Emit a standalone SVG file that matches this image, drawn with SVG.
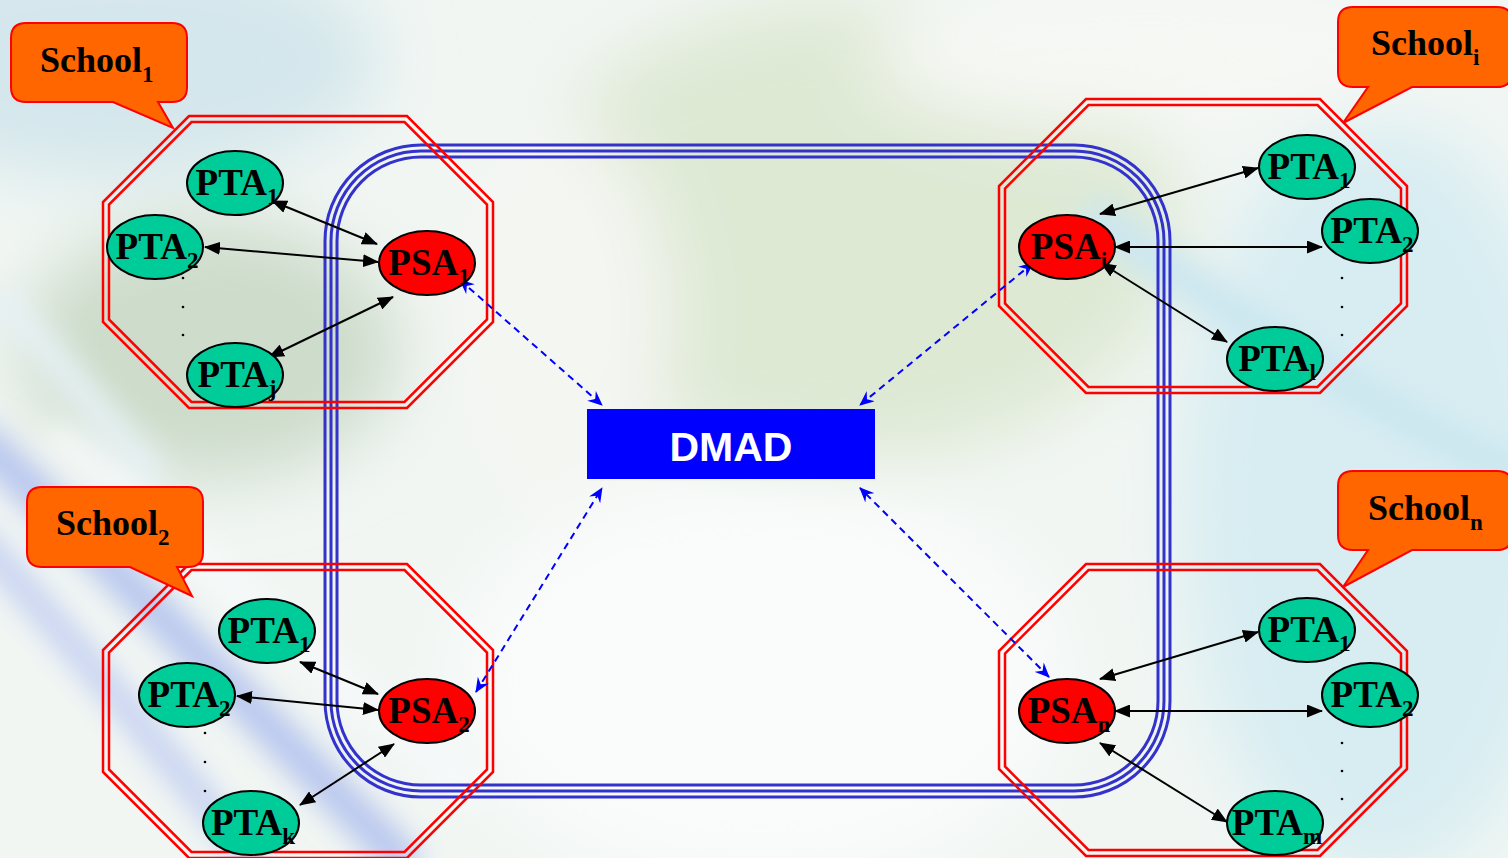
<svg xmlns="http://www.w3.org/2000/svg" width="1508" height="858" viewBox="0 0 1508 858">
<defs>
<style>
.oct{fill:none;stroke:#ff0000;stroke-width:2.5}
.pta{fill:#00cc99;stroke:#000;stroke-width:2}
.psa{fill:#ff0000;stroke:#000;stroke-width:2}
.lbl{font-family:"Liberation Serif","Times New Roman",serif;font-weight:bold;font-size:37px;fill:#000;text-anchor:middle}
.sub{font-size:23px}
.call{fill:#ff6600;stroke:#ff0000;stroke-width:2}
.ctext{font-family:"Liberation Serif","Times New Roman",serif;font-weight:bold;font-size:36px;fill:#000}
.blk{stroke:#000;stroke-width:2;fill:none;marker-start:url(#ah);marker-end:url(#ah)}
.dsh{stroke:#0000ff;stroke-width:2;fill:none;stroke-dasharray:7 5;marker-start:url(#bh);marker-end:url(#bh)}
.ring{fill:none;stroke:#3333cc;stroke-width:3}
.dot{fill:#000}
</style>
<marker id="ah" viewBox="0 0 16 13" refX="15" refY="6.5" markerWidth="16" markerHeight="13" markerUnits="userSpaceOnUse" orient="auto-start-reverse">
<path d="M0,0 L16,6.5 L0,13 Z" fill="#000"/>
</marker>
<marker id="bh" viewBox="0 0 15 13" refX="14" refY="6.5" markerWidth="15" markerHeight="13" markerUnits="userSpaceOnUse" orient="auto-start-reverse">
<path d="M0,0 L15,6.5 L0,13 L5,6.5 Z" fill="#0000ff"/>
</marker>
<filter id="blur" x="-50%" y="-50%" width="200%" height="200%"><feGaussianBlur stdDeviation="35"/></filter>
<filter id="blur2" x="-50%" y="-50%" width="200%" height="200%"><feGaussianBlur stdDeviation="14"/></filter>
</defs>

<g id="background">
<rect x="0" y="0" width="1508" height="858" fill="#f1f6f3"/>
<g filter="url(#blur)">
<ellipse cx="120" cy="60" rx="260" ry="120" fill="#d4e7ec"/>
<ellipse cx="850" cy="230" rx="330" ry="230" fill="#dee9d4"/>
<ellipse cx="210" cy="350" rx="190" ry="130" fill="#cddccb"/>
<ellipse cx="1380" cy="500" rx="200" ry="380" fill="#d8edf2"/>
<ellipse cx="760" cy="680" rx="300" ry="200" fill="#fafcfc"/>
<ellipse cx="1150" cy="60" rx="280" ry="70" fill="#f6f8f4"/>
<ellipse cx="560" cy="320" rx="110" ry="200" fill="#f4f6f2"/>
</g>
<g filter="url(#blur2)" fill="none" stroke-linecap="round">
<path d="M-20,440 C120,570 240,700 400,858" stroke="#b8c6ee" stroke-width="38"/>
<path d="M-20,540 C80,650 170,760 250,858" stroke="#c4d0f2" stroke-width="28"/>
<path d="M60,440 C200,550 300,650 470,790" stroke="#f6f9fa" stroke-width="28"/>
<path d="M0,300 C60,360 100,420 150,470" stroke="#e6f1f4" stroke-width="30"/>
<path d="M1100,220 C1250,330 1400,420 1508,470" stroke="#cce7f0" stroke-width="40"/>
</g>
</g>

<g id="network-ring">
<rect class="ring" x="325" y="145" width="845" height="652" rx="96" ry="96"/>
<rect class="ring" x="331" y="151" width="833" height="640" rx="90" ry="90"/>
<rect class="ring" x="337" y="157" width="821" height="628" rx="84" ry="84"/>
</g>

<g id="school1-boundary">
<polygon class="oct" points="189,116 407,116 493,202 493,322 407,408 189,408 103,322 103,202"/>
<polygon class="oct" points="191.5,122 404.5,122 487,204.5 487,319.5 404.5,402 191.5,402 109,319.5 109,204.5"/>
</g>
<g id="schooli-boundary">
<polygon class="oct" points="1086,99 1320,99 1407,186 1407,306 1320,393 1086,393 999,306 999,186"/>
<polygon class="oct" points="1088.5,105 1317.5,105 1401,188.5 1401,303.5 1317.5,387 1088.5,387 1005,303.5 1005,188.5"/>
</g>
<g id="school2-boundary">
<polygon class="oct" points="189,564 407,564 493,650 493,772 407,858 189,858 103,772 103,650"/>
<polygon class="oct" points="191.5,570 404.5,570 487,652.5 487,769.5 404.5,852 191.5,852 109,769.5 109,652.5"/>
</g>
<g id="schooln-boundary">
<polygon class="oct" points="1086,564 1320,564 1407,651 1407,769 1320,856 1086,856 999,769 999,651"/>
<polygon class="oct" points="1088.5,570 1317.5,570 1401,653.5 1401,766.5 1317.5,850 1088.5,850 1005,766.5 1005,653.5"/>
</g>

<g id="callout-school1">
<path class="call" d="M26,23 H172 Q187,23 187,38 V87 Q187,102 172,102 H158 L173,128 L113,102 H26 Q11,102 11,87 V38 Q11,23 26,23 Z"/>
<text class="ctext" x="40" y="72">School<tspan class="sub" dy="10">1</tspan></text>
</g>
<g id="callout-schooli">
<path class="call" d="M1353,7 H1497 Q1512,7 1512,22 V72 Q1512,87 1497,87 H1412 L1343,123 L1368,87 H1353 Q1338,87 1338,72 V22 Q1338,7 1353,7 Z"/>
<text class="ctext" x="1371" y="55">School<tspan class="sub" dy="10">i</tspan></text>
</g>
<g id="callout-school2">
<path class="call" d="M42,487 H188 Q203,487 203,502 V552 Q203,567 188,567 H177 L192,596 L130,567 H42 Q27,567 27,552 V502 Q27,487 42,487 Z"/>
<text class="ctext" x="56" y="535">School<tspan class="sub" dy="10">2</tspan></text>
</g>
<g id="callout-schooln">
<path class="call" d="M1353,471 H1497 Q1512,471 1512,486 V535 Q1512,550 1497,550 H1412 L1343,587 L1368,550 H1353 Q1338,550 1338,535 V486 Q1338,471 1353,471 Z"/>
<text class="ctext" x="1368" y="520">School<tspan class="sub" dy="10">n</tspan></text>
</g>

<g id="dots">
<circle class="dot" cx="183" cy="278" r="1.3"/><circle class="dot" cx="183" cy="307" r="1.3"/><circle class="dot" cx="183" cy="335" r="1.3"/>
<circle class="dot" cx="1342" cy="278" r="1.3"/><circle class="dot" cx="1342" cy="307" r="1.3"/><circle class="dot" cx="1342" cy="335" r="1.3"/>
<circle class="dot" cx="205" cy="733" r="1.3"/><circle class="dot" cx="205" cy="762" r="1.3"/><circle class="dot" cx="205" cy="791" r="1.3"/>
<circle class="dot" cx="1342" cy="743" r="1.3"/><circle class="dot" cx="1342" cy="771" r="1.3"/><circle class="dot" cx="1342" cy="799" r="1.3"/>
</g>

<g id="connectors">
<line class="blk" x1="272" y1="201" x2="377" y2="244"/>
<line class="blk" x1="205" y1="247" x2="378" y2="262"/>
<line class="blk" x1="269" y1="357" x2="393" y2="297"/>
<line class="blk" x1="1100" y1="214" x2="1258" y2="168"/>
<line class="blk" x1="1115" y1="247" x2="1322" y2="247"/>
<line class="blk" x1="1101" y1="263" x2="1227" y2="342"/>
<line class="blk" x1="300" y1="662" x2="378" y2="694"/>
<line class="blk" x1="237" y1="696" x2="378" y2="710"/>
<line class="blk" x1="300" y1="805" x2="394" y2="744"/>
<line class="blk" x1="1100" y1="679" x2="1258" y2="632"/>
<line class="blk" x1="1115" y1="711" x2="1322" y2="711"/>
<line class="blk" x1="1100" y1="743" x2="1227" y2="822"/>
<line class="dsh" x1="460" y1="280" x2="602" y2="405"/>
<line class="dsh" x1="1033" y1="263" x2="860" y2="405"/>
<line class="dsh" x1="476" y1="692" x2="602" y2="488"/>
<line class="dsh" x1="1049" y1="677" x2="860" y2="488"/>
</g>

<g id="dmad">
<rect x="587" y="409" width="288" height="70" fill="#0000ff"/>
<text x="731" y="461" font-family="'Liberation Sans',Arial,sans-serif" font-weight="bold" font-size="41" fill="#ffffff" text-anchor="middle">DMAD</text>
</g>

<g id="s1-pta1"><ellipse class="pta" cx="235" cy="183" rx="48" ry="32"/><text class="lbl" x="237" y="195">PTA<tspan class="sub" dy="9">1</tspan></text></g>
<g id="s1-pta2"><ellipse class="pta" cx="155" cy="247" rx="48" ry="32"/><text class="lbl" x="157" y="259">PTA<tspan class="sub" dy="9">2</tspan></text></g>
<g id="s1-ptaj"><ellipse class="pta" cx="235" cy="375" rx="48" ry="32"/><text class="lbl" x="237" y="387">PTA<tspan class="sub" dy="9">j</tspan></text></g>
<g id="s1-psa1"><ellipse class="psa" cx="427" cy="263" rx="48" ry="32"/><text class="lbl" x="429" y="275">PSA<tspan class="sub" dy="9">1</tspan></text></g>

<g id="si-psai"><ellipse class="psa" cx="1067" cy="247" rx="48" ry="32"/><text class="lbl" x="1069" y="259">PSA<tspan class="sub" dy="9">i</tspan></text></g>
<g id="si-pta1"><ellipse class="pta" cx="1307" cy="167" rx="48" ry="32"/><text class="lbl" x="1309" y="179">PTA<tspan class="sub" dy="9">1</tspan></text></g>
<g id="si-pta2"><ellipse class="pta" cx="1370" cy="231" rx="48" ry="32"/><text class="lbl" x="1372" y="243">PTA<tspan class="sub" dy="9">2</tspan></text></g>
<g id="si-ptal"><ellipse class="pta" cx="1275" cy="359" rx="48" ry="32"/><text class="lbl" x="1277" y="371">PTA<tspan class="sub" dy="9">l</tspan></text></g>

<g id="s2-pta1"><ellipse class="pta" cx="267" cy="631" rx="48" ry="32"/><text class="lbl" x="269" y="643">PTA<tspan class="sub" dy="9">1</tspan></text></g>
<g id="s2-pta2"><ellipse class="pta" cx="187" cy="695" rx="48" ry="32"/><text class="lbl" x="189" y="707">PTA<tspan class="sub" dy="9">2</tspan></text></g>
<g id="s2-ptak"><ellipse class="pta" cx="251" cy="823" rx="48" ry="32"/><text class="lbl" x="253" y="835">PTA<tspan class="sub" dy="9">k</tspan></text></g>
<g id="s2-psa2"><ellipse class="psa" cx="427" cy="711" rx="48" ry="32"/><text class="lbl" x="429" y="723">PSA<tspan class="sub" dy="9">2</tspan></text></g>

<g id="sn-psan"><ellipse class="psa" cx="1067" cy="711" rx="48" ry="32"/><text class="lbl" x="1069" y="723">PSA<tspan class="sub" dy="9">n</tspan></text></g>
<g id="sn-pta1"><ellipse class="pta" cx="1307" cy="630" rx="48" ry="32"/><text class="lbl" x="1309" y="642">PTA<tspan class="sub" dy="9">1</tspan></text></g>
<g id="sn-pta2"><ellipse class="pta" cx="1370" cy="695" rx="48" ry="32"/><text class="lbl" x="1372" y="707">PTA<tspan class="sub" dy="9">2</tspan></text></g>
<g id="sn-ptam"><ellipse class="pta" cx="1275" cy="823" rx="48" ry="32"/><text class="lbl" x="1277" y="835">PTA<tspan class="sub" dy="9">m</tspan></text></g>
</svg>
